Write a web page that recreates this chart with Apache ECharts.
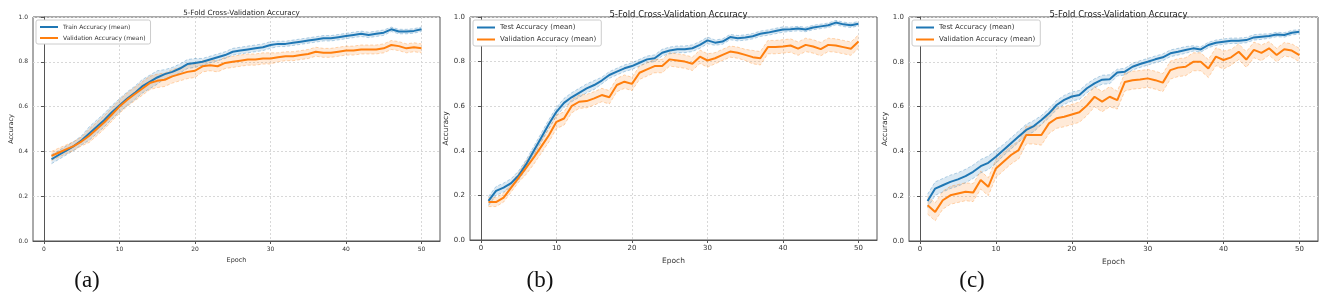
<!DOCTYPE html>
<html>
<head>
<meta charset="utf-8">
<script src="https://cdn.jsdelivr.net/npm/echarts@6/dist/echarts.min.js"></script>
<style>
  html, body { margin: 0; padding: 0; background: #fff; }
  #main { width: 1325px; height: 304px; }
</style>
</head>
<body>
<div id="main"></div>
<script>
const epochs = [1,2,3,4,5,6,7,8,9,10,11,12,13,14,15,16,17,18,19,20,21,22,23,24,25,
  26,27,28,29,30,31,32,33,34,35,36,37,38,39,40,41,42,43,44,45,46,47,48,49,50];
const xTicks = [0, 10, 20, 30, 40, 50];

// (a) train / validation mean accuracy
const trainA = [0.365,0.385,0.405,0.425,0.45,0.48,0.51,0.54,0.575,0.605,0.635,0.66,0.69,0.71,0.73,0.745,0.755,0.77,0.79,0.795,
  0.80,0.81,0.82,0.83,0.845,0.85,0.855,0.86,0.865,0.875,0.88,0.88,0.885,0.89,0.895,0.90,0.905,0.905,0.91,0.915,
  0.92,0.925,0.92,0.925,0.93,0.945,0.935,0.935,0.938,0.945];
const valA = [0.38,0.395,0.41,0.425,0.445,0.47,0.50,0.53,0.565,0.60,0.63,0.655,0.68,0.705,0.715,0.72,0.735,0.745,0.755,0.76,
  0.78,0.785,0.78,0.795,0.80,0.805,0.81,0.81,0.815,0.815,0.82,0.825,0.825,0.83,0.835,0.845,0.84,0.84,0.845,0.85,
  0.85,0.855,0.855,0.855,0.86,0.875,0.87,0.86,0.865,0.86];

// (b) test / validation mean accuracy
const testB = [0.175,0.22,0.235,0.255,0.29,0.34,0.40,0.46,0.52,0.575,0.615,0.64,0.66,0.68,0.695,0.715,0.74,0.755,0.77,0.78,
  0.795,0.81,0.815,0.84,0.85,0.855,0.855,0.86,0.875,0.895,0.885,0.89,0.91,0.905,0.908,0.914,0.925,0.93,0.937,0.944,
  0.945,0.948,0.944,0.953,0.958,0.963,0.975,0.967,0.963,0.97];
const valB = [0.17,0.17,0.19,0.235,0.28,0.325,0.37,0.42,0.47,0.53,0.545,0.60,0.62,0.623,0.635,0.65,0.64,0.695,0.71,0.70,
  0.75,0.765,0.78,0.78,0.81,0.805,0.80,0.79,0.822,0.805,0.815,0.83,0.845,0.84,0.83,0.82,0.815,0.865,0.865,0.868,
  0.872,0.858,0.875,0.868,0.856,0.875,0.872,0.865,0.858,0.89];

// (c) test / validation mean accuracy
const testC = [0.179,0.234,0.249,0.264,0.275,0.29,0.309,0.334,0.349,0.376,0.406,0.436,0.466,0.496,0.513,0.54,0.57,0.607,0.63,0.645,
  0.652,0.682,0.704,0.72,0.722,0.752,0.756,0.778,0.79,0.80,0.811,0.82,0.838,0.845,0.853,0.86,0.855,0.875,0.885,0.89,
  0.894,0.894,0.897,0.909,0.912,0.915,0.922,0.92,0.93,0.934];
const valC = [0.16,0.13,0.182,0.204,0.212,0.22,0.216,0.272,0.242,0.324,0.354,0.384,0.406,0.473,0.473,0.473,0.525,0.548,0.555,0.565,
  0.575,0.605,0.644,0.622,0.644,0.629,0.71,0.718,0.721,0.726,0.718,0.707,0.763,0.774,0.778,0.80,0.80,0.77,0.823,0.808,
  0.82,0.845,0.81,0.853,0.84,0.86,0.83,0.856,0.85,0.83];

// fold spread (half width of the shaded band), one value per 5 epochs
const sprTrainA = [0.02,0.03,0.03,0.02,0.015,0.015,0.012,0.012,0.012,0.01];
const sprValA   = [0.02,0.03,0.03,0.03,0.025,0.025,0.02,0.02,0.02,0.02];
const sprTestB  = [0.02,0.02,0.02,0.015,0.015,0.015,0.012,0.012,0.01,0.01];
const sprValB   = [0.02,0.03,0.03,0.03,0.03,0.03,0.025,0.03,0.03,0.03];
const sprTestC  = [0.03,0.03,0.025,0.02,0.02,0.015,0.015,0.012,0.012,0.01];
const sprValC   = [0.04,0.04,0.04,0.045,0.045,0.04,0.04,0.04,0.035,0.03];

const BLUE = '#1f77b4', ORANGE = '#ff7f0e';
const FONT = 'DejaVu Sans';

const panels = [
  {left: 33, width: 407, top: 17, height: 224, fs: 6, tfs: 7.2,
   means: [trainA, valA], sprs: [sprTrainA, sprValA],
   names: ['Train Accuracy (mean)', 'Validation Accuracy (mean)'], tag: '(a)', tagX: 82},
  {left: 470, width: 407, top: 17, height: 223, fs: 7, tfs: 8.5,
   means: [testB, valB], sprs: [sprTestB, sprValB],
   names: ['Test Accuracy (mean)', 'Validation Accuracy (mean)'], tag: '(b)', tagX: 535},
  {left: 909, width: 409, top: 17, height: 224, fs: 7, tfs: 8.5,
   means: [testC, valC], sprs: [sprTestC, sprValC],
   names: ['Test Accuracy (mean)', 'Validation Accuracy (mean)'], tag: '(c)', tagX: 967}
];

// shaded band between lower and upper fold values, drawn as one polygon
function bandRender(params, api) {
  if (params.dataIndex !== 0) return null;
  const pts = [];
  const data = params.context.band;
  for (let j = 0; j < data.length; j++) pts.push(api.coord([data[j][0], data[j][2]]));
  for (let j = data.length - 1; j >= 0; j--) pts.push(api.coord([data[j][0], data[j][1]]));
  return {type: 'polygon', shape: {points: pts}, style: {fill: params.context.color, opacity: 0.16}};
}

const grid = [], xAxis = [], yAxis = [], series = [], title = [], legend = [];

panels.forEach((p, i) => {
  grid.push({left: p.left, top: p.top, width: p.width, height: p.height,
    show: true, borderColor: '#555', borderWidth: 1, backgroundColor: '#fff'});
  xAxis.push({type: 'value', gridIndex: i, min: -1.45, max: 52.45,
    name: 'Epoch', nameLocation: 'middle', nameGap: 12,
    nameTextStyle: {fontFamily: FONT, fontSize: p.fs + 0.5, color: '#333'},
    axisLine: {lineStyle: {color: '#555'}},
    axisTick: {customValues: xTicks, length: 3, lineStyle: {color: '#555'}},
    axisLabel: {customValues: xTicks, fontFamily: FONT, fontSize: p.fs, color: '#333', margin: 5},
    splitLine: {show: true, lineStyle: {color: '#d8d8d8', type: [2, 2]}}});
  yAxis.push({type: 'value', gridIndex: i, min: 0, max: 1, interval: 0.2,
    name: 'Accuracy', nameLocation: 'middle', nameGap: 17,
    nameTextStyle: {fontFamily: FONT, fontSize: p.fs + 0.5, color: '#333'},
    axisLine: {show: true, lineStyle: {color: '#555'}},
    axisTick: {show: true, length: 3, lineStyle: {color: '#555'}},
    axisLabel: {fontFamily: FONT, fontSize: p.fs, color: '#333', margin: 5,
      formatter: v => v.toFixed(1)},
    splitLine: {show: true, lineStyle: {color: '#d8d8d8', type: [2, 2]}}});
  title.push({text: '5-Fold Cross-Validation Accuracy', left: p.left + p.width / 2, top: 5,
    textAlign: 'center',
    textStyle: {fontFamily: FONT, fontSize: p.tfs, fontWeight: 'normal', color: '#222'}});
  title.push({text: p.tag, left: p.tagX, top: 264, textAlign: 'center',
    textStyle: {fontFamily: 'Liberation Serif', fontSize: 23, fontWeight: 'normal', color: '#111'}});
  legend.push({data: p.names, left: p.left + 3, top: 20, orient: 'vertical',
    icon: 'rect', itemWidth: 18, itemHeight: 2, itemGap: 5, padding: [4, 5, 3, 4],
    borderColor: '#ccc', borderWidth: 1, borderRadius: 2, backgroundColor: '#fff',
    textStyle: {fontFamily: FONT, fontSize: p.fs, color: '#333'}});

  [BLUE, ORANGE].forEach((color, k) => {
    const mean = p.means[k], spr = p.sprs[k];
    const band = mean.map((v, j) => [epochs[j], v - spr[Math.floor(j / 5)], v + spr[Math.floor(j / 5)]]);
    const edge = {color: color, width: 0.7, type: [3, 2], opacity: 0.45};
    series.push({type: 'custom', xAxisIndex: i, yAxisIndex: i, data: band, silent: true, z: 1,
      encode: {x: 0, y: [1, 2]},
      renderItem: function (params, api) {
        params.context.band = band; params.context.color = color;
        return bandRender(params, api);
      }});
    series.push({type: 'line', xAxisIndex: i, yAxisIndex: i, data: band.map(b => [b[0], b[1]]),
      symbol: 'none', silent: true, lineStyle: edge, z: 2});
    series.push({type: 'line', xAxisIndex: i, yAxisIndex: i, data: band.map(b => [b[0], b[2]]),
      symbol: 'none', silent: true, lineStyle: edge, z: 2});
    series.push({type: 'line', name: p.names[k], xAxisIndex: i, yAxisIndex: i,
      data: mean.map((v, j) => [epochs[j], v]), symbol: 'none',
      lineStyle: {color: color, width: 2}, itemStyle: {color: color}, z: 3});
  });
});

const chart = echarts.init(document.getElementById('main'));
chart.setOption({animation: false, title, legend, grid, xAxis, yAxis, series});
</script>
</body>
</html>
